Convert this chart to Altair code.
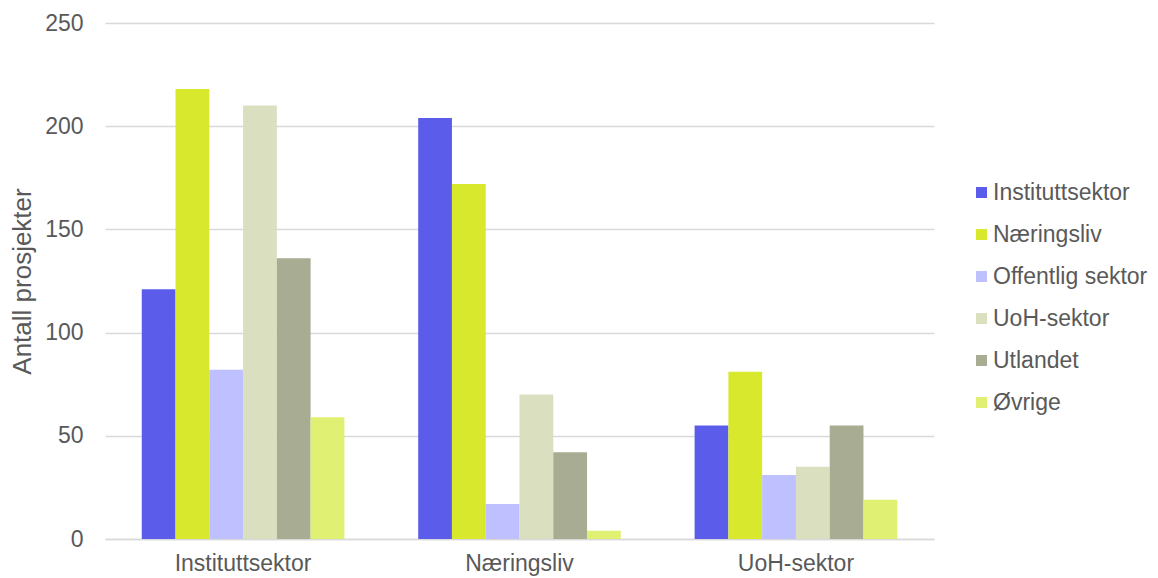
import altair as alt
import pandas as pd

# Grouped bar chart: number of projects per sector, split by partner sector
groups = ["Instituttsektor", "Næringsliv", "UoH-sektor"]
series = ["Instituttsektor", "Næringsliv", "Offentlig sektor", "UoH-sektor", "Utlandet", "Øvrige"]
colors = ["#5C5CEB", "#D7E82D", "#BFC0FF", "#DADFBF", "#A8AC93", "#E0F073"]

values_instituttsektor = [121, 218, 82, 210, 136, 59]
values_naeringsliv = [204, 172, 17, 70, 42, 4]
values_uoh = [55, 81, 31, 35, 55, 19]

y_ticks = [0, 50, 100, 150, 200, 250]

rows = []
for g, vals in zip(groups, [values_instituttsektor, values_naeringsliv, values_uoh]):
    for s, v in zip(series, vals):
        rows.append({"gruppe": g, "serie": s, "antall": v})
df = pd.DataFrame(rows)

text_color = "#595959"
font = "Liberation Sans"

chart = alt.Chart(df).mark_bar().encode(
    x=alt.X(
        "gruppe:N",
        sort=groups,
        title=None,
        scale=alt.Scale(paddingInner=0.267, paddingOuter=0.133),
        axis=alt.Axis(
            labelAngle=0, ticks=False, domain=True, domainColor="#D9D9D9",
            domainWidth=1.5, labelPadding=13, labelFontSize=23,
            labelColor=text_color, labelFont=font, grid=False,
        ),
    ),
    xOffset=alt.XOffset("serie:N", sort=series),
    y=alt.Y(
        "antall:Q",
        title="Antall prosjekter",
        scale=alt.Scale(domain=[0, 250], nice=False),
        axis=alt.Axis(
            values=y_ticks, ticks=False, domain=False, grid=True,
            gridColor="#D9D9D9", gridWidth=1.5, labelPadding=22,
            labelFontSize=23, labelColor=text_color, labelFont=font,
            titleFontSize=26, titleFontWeight="normal", titleColor=text_color,
            titleFont=font, titlePadding=9,
        ),
    ),
    color=alt.Color(
        "serie:N",
        sort=series,
        scale=alt.Scale(domain=series, range=colors),
        legend=alt.Legend(
            title=None, orient="none", legendX=865, legendY=158,
            symbolType="square", symbolSize=121, symbolStrokeWidth=0,
            labelFontSize=23, labelColor=text_color, labelFont=font,
            labelOffset=0, rowPadding=18,
        ),
    ),
).properties(
    width=829,
    height=516,
    padding={"left": 105, "top": 23, "right": 224, "bottom": 39},
    autosize=alt.AutoSizeParams(type="none"),
).configure_view(stroke=None)

chart.save("out.html", embed_options={"renderer": "svg", "actions": False})
